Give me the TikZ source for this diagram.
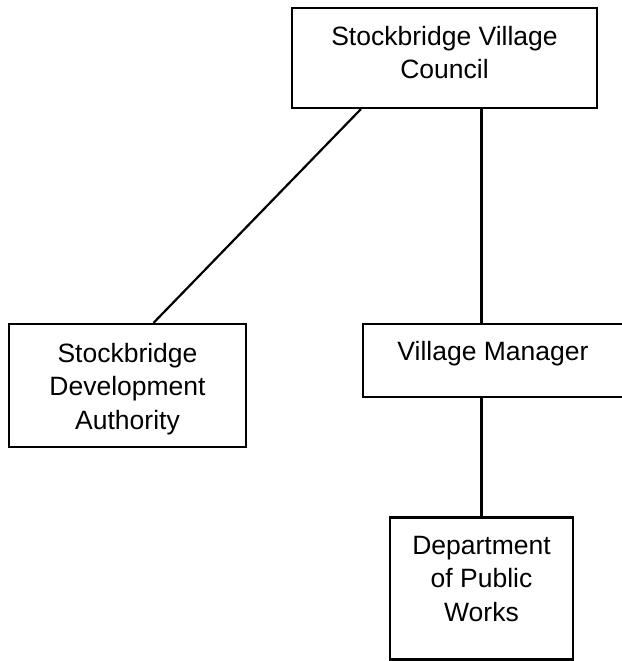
\documentclass[tikz,border=0pt]{standalone}
\usepackage{fontspec}
\setmainfont{Liberation Sans}
\begin{document}
\begin{tikzpicture}[x=1pt, y=-1pt,
  box/.style={draw=black, line width=2.2pt, rectangle, inner sep=0pt},
  caption/.style={inner sep=0pt, align=center, anchor=north,
    font=\fontsize{26.5}{33.5}\selectfont},
  link/.style={draw=black, line width=2.2pt}]
  \useasboundingbox (0,0) rectangle (621,661);

  % boxes
  \node[box, minimum width=305pt, minimum height=100pt] (council) at (444.5,58) {};
  \node[box, minimum width=237pt, minimum height=123pt] (sda) at (127.5,385.5) {};
  \node[box, minimum width=265pt, minimum height=73pt] (manager) at (495.5,360.5) {};
  \node[box, minimum width=183pt, minimum height=142pt] (dpw) at (481.5,588.5) {};

  % labels
  \node[caption] (councilt) at (444.5,26) {Stockbridge Village\\Council};
  \node[caption] (sdat) at (127.5,343) {Stockbridge\\Development\\Authority};
  \node[caption] (managert) at (493,341) {Village Manager};
  \node[caption] (dpwt) at (481.5,536) {Department\\of Public\\Works};

  % reporting lines
  \draw[link] ([xshift=70pt]council.south west) -- ([xshift=26pt]sda.north);
  \draw[link] (dpw.north |- council.south) -- (dpw.north |- manager.north);
  \draw[link] (dpw.north |- manager.south) -- (dpw.north);
\end{tikzpicture}
\end{document}
